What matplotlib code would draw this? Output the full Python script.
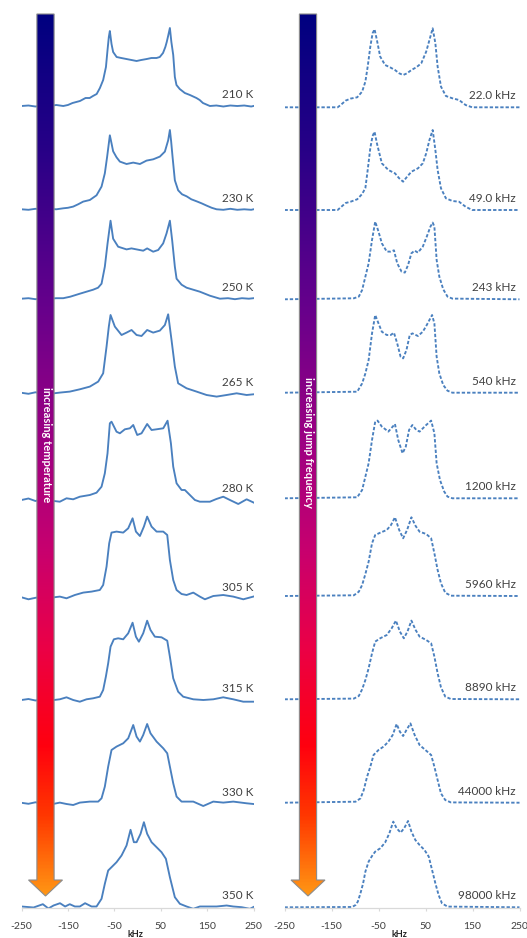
import numpy as np
import matplotlib
matplotlib.use("Agg")
import matplotlib.pyplot as plt
from matplotlib.colors import LinearSegmentedColormap
from matplotlib.patches import Polygon

plt.rcParams['font.family'] = ['Lato', 'DejaVu Sans']
plt.rcParams['lines.scale_dashes'] = False

# ---------------- data (kHz, intensity) ----------------
temp_labels = ['210 K', '230 K', '250 K', '265 K', '280 K', '305 K', '315 K', '330 K', '350 K']
freq_labels = ['22.0 kHz', '49.0 kHz', '243 kHz', '540 kHz', '1200 kHz', '5960 kHz', '8890 kHz', '44000 kHz', '98000 kHz']
tick_values = [-250, -150, -50, 50, 150, 250]

exp_210K_khz = [-250,-235,-220,-205,-190,-175,-160,-150,-140,-124,-112,-103,-96,-88,-81,-74,-68,-64.6,-61.8,-59.6,-56,-52.5,-45,-35,-24,-13,-2,8,20,30,41,48,55,60,63,66,69.8,73,77,80.5,84,91,102,113,127,134,141,156,170,185,200,215,230,245,250]
exp_210K_int = [0,0.5,-0.5,0.5,0,1,0,1,3,5,8,8,10,12,18,26,39,56,69,75,62,54,49,48,47,46,45,46,47,48,48,49,53,59,64,70,78,64,51,29,21,17,13,11,8,6,3,0,0.5,-0.5,0.5,0,0.5,-0.5,0]

exp_230K_khz = [-250,-235,-220,-205,-190,-175,-160,-150,-138.6,-128,-117,-102.7,-88.3,-77.5,-70.4,-65.4,-59.6,-56,-52.5,-45.2,-38,-23.6,-9.2,5.2,19.5,33.9,48.2,59,66.1,69.8,72.5,75.5,80.5,87.6,96,105.8,116,127.3,138,148.9,160,170.5,185,200,215,230,245,250]
exp_230K_int = [0,-0.5,0.5,0,0.5,0,1,1.5,2.7,5,7.7,9.3,14,22.7,36,52.7,74,66,58,52,47.7,45.3,46.7,45.3,48.7,50,52.7,57.7,69,79.3,68,52.7,29,19,15,13,10,8,6,3.7,1.5,0,-0.5,0.5,-0.5,0,-0.5,0]

exp_250K_khz = [-250,-235,-220,-205,-190,-175,-160,-145,-124.3,-110,-95.6,-85,-77.5,-70.4,-64.6,-58.1,-52.5,-41.7,-23.6,-13,-2,12.3,20.8,33.8,44.6,55.3,62.6,69.8,74.8,80.5,84.2,95,105.8,120,134.4,156,177.6,195,210,225,240,250]
exp_250K_int = [0,0.5,-0.5,0.5,0,0.5,0.5,2,5,7,9,11,15,32,55,78,60,52,49.3,50.3,49.3,48,50.3,47,48.7,55.3,65.3,78,58,32,20,14,11,9,7,3,0,0.5,-0.5,0.5,0,0.5]

exp_265K_khz = [-250,-235,-220,-205,-190,-180,-167.4,-145.8,-124.3,-102.7,-84.7,-74,-66.7,-61.8,-58.1,-48.8,-34.4,-23.6,-12.8,-2,8.7,20.8,33.8,48.2,59,66.1,73.4,80.5,87.6,105.8,127.3,148.9,170.5,192.1,213.6,235.2,250]
exp_265K_int = [0.5,-0.5,1,0,-1,0,0.7,1.7,4,6.7,11.7,20,46.7,66.7,78.3,66.7,58.3,60.7,63.3,58.3,57.3,63.3,60.7,62.7,68.3,79,53,26.7,10,5,1.7,-1.7,-3.3,-1.7,0,-1.7,-1]

exp_280K_khz = [-250,-235,-220,-205,-190,-180,-167.4,-153,-138.6,-124.3,-102.7,-88.3,-77.5,-70.4,-64.6,-59.6,-56,-45.2,-38,-27.2,-16.4,-9.2,-0.6,8.7,20.8,30.3,41.1,55.5,64.8,72,77,84.2,95,102.1,112.9,123.7,134.4,156,170,184.8,199.2,217.2,235.2,250]
exp_280K_int = [0,1.5,-1,1,0,-1,-1.7,1.7,0.7,3.3,5,7.3,13.3,26.7,46.7,76.7,78.3,68.3,66.7,70.7,71.7,75,65,66.7,76,70,70.7,71.7,79.3,56.7,33.3,16.7,10,10,5,0,-1.7,-1.7,1,3.3,0,-4,0.7,-2.5]

exp_305K_khz = [-250,-235,-220,-205,-190,-180,-167.4,-153,-135,-117,-99,-81.2,-74,-66.7,-61,-56,-45.2,-30.8,-20,-10.6,-3.4,5.2,13.8,20.8,30.3,41.1,55.5,64.1,69.8,77,84.2,95,105.8,120.2,134.4,145.3,163.3,184.8,206.4,228,249.6]
exp_305K_int = [1,-1,0.5,1.5,0,1,1.7,0,3.3,5.7,6.7,8.3,13.3,31.7,55,65.7,66.7,65.7,70,80,66.7,62.3,71.7,81.7,71.7,66.7,66.7,63.3,38.3,18.3,8.3,4.3,3.3,5.7,1.7,-1,2.3,3.3,1.7,-1,1.7]

exp_315K_khz = [-250,-235,-220,-205,-190,-180,-167.4,-153,-138.6,-124.3,-109.9,-95.6,-81.2,-74,-68.2,-63.2,-58.1,-51,-41.7,-30.8,-20,-10.6,-3.4,3,12.3,20.8,28,37.4,51.8,64.1,69.8,77,87.6,98.5,120.2,141.7,163.3,184.8,206.4,228,250]
exp_315K_int = [0,1,-0.5,0.5,-1,0,0.7,2.7,0,-1.7,0.7,1.7,3.3,10,23.3,36.7,53.3,60.7,61.7,60.7,66.7,77.3,63.3,58.3,66.7,79.3,70,63.3,62.7,59.3,43.3,21.7,8.3,3.3,0.7,0,0.7,2.7,0.7,-1.7,-1.7]

exp_330K_khz = [-250,-235,-220,-205,-190,-180,-167.4,-153,-138.6,-124.3,-102.7,-84.7,-77.5,-70.4,-63.2,-56,-45.2,-30.8,-20,-9.2,-2,5.2,12.3,20.8,28,41.1,55.5,64.1,69.8,77,84.2,95,120.2,141.7,163.3,184.8,206.4,235.2,250]
exp_330K_int = [0.5,-0.5,1,0,0.5,-0.5,0.7,-0.7,-1.7,0.7,1.7,1.7,5,16.7,36.7,53.3,56.7,60,65,78.3,66.7,61.7,68.3,79.3,70,61.7,55,50,36.7,20,6.7,1.7,1.7,-2.7,1.7,0.7,1.7,0,-0.7]

exp_350K_khz = [-250,-224,-204,-192,-181,-167,-156,-146,-135,-124.3,-113,-99,-88.3,-77.5,-70.4,-63.2,-56,-45.2,-34.4,-23.6,-15,-7.8,-2,6.6,13.8,20.8,30.3,41.1,51.8,61.2,69.8,80.5,91.3,105.8,120.2,134.4,148.9,170.5,192.1,206.4,224.4,242.4,250]
exp_350K_int = [0,-1,2.3,-2,1,3.3,0,2.3,0,0,3.3,0,0,7.7,22.7,36,39.3,44.3,51,61,76.7,64.3,64.3,72.7,84.3,72.7,64.3,59.3,54.3,47.7,29.3,9.3,2.7,0,-2.3,0,0,0,1,0,-0.7,-2.3,-0.5]

sim_22_khz = [-250,-137,-130.4,-119.9,-109.4,-95.3,-84.8,-77.9,-73,-67.4,-62.6,-58.4,-53.4,-46.4,-36,-25.5,-15,-6,2.4,10.8,20,30.5,41,51.5,58.4,65.3,71,75.8,82.9,93.4,107.2,121.3,135.3,149.2,250]
sim_22_int = [0,0,2.3,6.7,8.7,10,15.7,25.7,40.7,60.7,74,78,67.3,50.7,42.3,40,37.3,34,32.3,34,37.3,40,44,55.7,67.3,79,64,40.7,20.7,11.3,9,7.3,2.3,0,0]

sim_49_khz = [-250,-137,-130.4,-119.9,-109.4,-95.3,-84.8,-77.9,-73,-67.4,-62.6,-58.4,-53.4,-42.9,-29,-15,-6,2.4,10.8,20,34,44.3,51.5,58.4,65.3,71,75.8,82.9,93.4,107.2,121.3,135.3,149.2,250]
sim_49_int = [0,0,2.7,7,8.3,10.7,16,22,40,62,74,78.3,66.7,46.7,40,36.7,31.7,28.3,33.3,38.3,41.7,46.7,56.7,70,80,60,40,21.7,11.7,9,8.3,3.3,0,0]

sim_243_khz = [-250,-102.4,-91.9,-84.8,-77.9,-71,-63.8,-57,-50,-42.9,-32.4,-24,-17.1,-10.2,-1,6,12.9,20,26.9,33.9,44.3,52.7,60.5,65.3,68.9,73.7,79.4,87.7,96.8,107.2,250]
sim_243_int = [0,1,2.7,9.3,22.7,36,59.3,77.7,67.7,56,47.7,47.7,49,36,27.7,26.7,34.3,46,48.7,46.7,52.7,62.7,72.7,76.7,72.7,39.3,22.7,10,2.7,0.7,0]

sim_540_khz = [-250,-95.3,-84.8,-77.9,-71,-63.8,-57,-50,-42.9,-32.4,-24,-17.1,-10.2,-3,2.4,9.5,16.5,22.1,33.9,44.3,52.7,64,68.9,73.7,79.4,87.7,96.8,107.2,250]
sim_540_int = [0,1,9.3,19.3,32.7,59.3,77.7,69.3,61,57.7,57.7,60,49.3,36,34.3,42.7,57.7,59.3,56.7,61,67.7,77.7,69.3,36,19.3,7.7,2,0,0]

sim_1200_khz = [-250,-95.3,-84.8,-77.9,-71,-63.8,-57,-52.1,-42.9,-29,-15,-8,1.2,8.1,15,22.1,30.5,37.4,51.5,62,68.9,73.7,80.8,89.8,96.8,107.2,250]
sim_1200_int = [0,1,8.3,21.7,35,58.3,76.7,77.7,71.7,66.7,74.3,58.3,45,51.7,68.3,73.3,68.3,66.7,73.3,77.7,65,35,18.3,6.7,1.7,0,0]

sim_5960_khz = [-250,-102.4,-91.9,-84.8,-77.9,-71,-63.8,-57,-46.4,-32.4,-23.4,-15,-6,2.4,10.8,20,29,37.4,51.5,62,68.9,75.8,82.9,92,103.9,250]
sim_5960_int = [0,0.7,4.3,11,22,34.3,52.7,61,63.3,66,71,78.7,66,57.7,66,78.7,70,64.3,62,57.7,42.7,26,12.7,3.3,0.3,0]

sim_8890_khz = [-250,-102.4,-91.9,-84.8,-77.9,-71,-63.8,-57,-46.4,-32.4,-22,-12.9,-4.5,3.9,11.6,20,29,37.4,51.5,62,68.9,75.8,82.9,92,103.9,250]
sim_8890_int = [0,0.7,3.3,10,19.3,31,46,57.7,61,64.3,71,78.7,67.7,61,67.7,78.7,69.3,62.7,59.3,56,42.7,26,12,2.7,0.3,0]

sim_44000_khz = [-250,-98.8,-88.4,-81.4,-74.3,-67.4,-60.5,-50,-39.5,-29,-19.8,-11.4,-4.5,2.4,9.5,17.9,26.9,37.4,51.5,62,68.9,75.8,82.9,92,103.9,250]
sim_44000_int = [0,1,4.3,12.7,26,36,47.7,52.7,56,61,67.7,78.7,71,66.7,72.7,79.3,67.7,57.7,52,47.7,36,22.7,9.3,2.7,0.3,0]

sim_98000_khz = [-250,-106,-98.8,-94,-88.4,-82.7,-77.9,-71,-63.8,-57,-46.4,-36,-26.9,-18.6,-11.4,-3,4.5,12.9,20,28.4,37.4,47.9,56.9,64,71,77.9,85,96.8,250]
sim_98000_int = [0,0.3,2.3,5.7,14,24,35.7,45.7,51.3,55.7,59,64.7,74,85.7,79,74.7,79,86.3,75.7,67.3,62.3,57.3,50.7,37.3,24,12.3,4,0.7,0]

exp_series = [(exp_210K_khz, exp_210K_int), (exp_230K_khz, exp_230K_int), (exp_250K_khz, exp_250K_int),
              (exp_265K_khz, exp_265K_int), (exp_280K_khz, exp_280K_int), (exp_305K_khz, exp_305K_int),
              (exp_315K_khz, exp_315K_int), (exp_330K_khz, exp_330K_int), (exp_350K_khz, exp_350K_int)]
sim_series = [(sim_22_khz, sim_22_int), (sim_49_khz, sim_49_int), (sim_243_khz, sim_243_int),
              (sim_540_khz, sim_540_int), (sim_1200_khz, sim_1200_int), (sim_5960_khz, sim_5960_int),
              (sim_8890_khz, sim_8890_int), (sim_44000_khz, sim_44000_int), (sim_98000_khz, sim_98000_int)]

# ---------------- layout (pixels) ----------------
W, H = 527, 938
AX_BOTTOM = 908
base_left = [106, 209.3, 298.7, 393.3, 500, 598.3, 700, 803.3, 906.5]
base_right = [107.3, 210, 299.3, 392.7, 498.3, 596, 699.3, 802.7, 907.3]
LINE_COLOR = '#4a80bf'
TEXT_COLOR = '#404040'
AXIS_COLOR = '#d9d9d9'

fig = plt.figure(figsize=(W / 100, H / 100), dpi=100)


def px_axes(x0, x1):
    return fig.add_axes([x0 / W, (H - AX_BOTTOM) / H, (x1 - x0) / W, AX_BOTTOM / H])


axL = px_axes(21.5, 253.5)
axR = px_axes(284.5, 519.5)

for ax in (axL, axR):
    ax.set_xlim(-250, 250)
    ax.set_ylim(0, AX_BOTTOM)
    for s in ('left', 'right', 'top'):
        ax.spines[s].set_visible(False)
    ax.spines['bottom'].set_color(AXIS_COLOR)
    ax.spines['bottom'].set_linewidth(0.9)
    ax.set_xticks(tick_values)
    ax.set_xticklabels([str(v) for v in tick_values])
    ax.tick_params(axis='x', length=2.5, width=0.8, color=AXIS_COLOR, labelsize=7.5,
                   labelcolor=TEXT_COLOR, pad=7.5)
    ax.set_yticks([])
    ax.patch.set_alpha(0)
    ax.text(-5, -26, 'kHz', ha='center', va='center', fontsize=6.5, fontweight='bold', color='#222222')

for (kx, ky), b, lab in zip(exp_series, base_left, temp_labels):
    off = AX_BOTTOM - b
    axL.plot(kx, np.asarray(ky) + off, color=LINE_COLOR, lw=1.35, solid_joinstyle='round')
    axL.text(249, off + 11, lab, ha='right', va='center', fontsize=8.5, color=TEXT_COLOR)

for (kx, ky), b, lab in zip(sim_series, base_right, freq_labels):
    off = AX_BOTTOM - b
    axR.plot(kx, np.asarray(ky) + off, color=LINE_COLOR, lw=1.35, linestyle=(0, (2.4, 1.4)))
    axR.text(241.5, off + 11.5, lab, ha='right', va='center', fontsize=8.5, color=TEXT_COLOR)

# ---------------- gradient arrows ----------------
ov = fig.add_axes([0, 0, 1, 1])
ov.set_zorder(10)
ov.patch.set_alpha(0)
ov.axis('off')

cmap = LinearSegmentedColormap.from_list('arr', [
    (0.0, (0 / 255, 0 / 255, 128 / 255)),
    (0.154, (40 / 255, 0, 135 / 255)),
    (0.324, (100 / 255, 0, 140 / 255)),
    (0.494, (160 / 255, 0, 130 / 255)),
    (0.61, (200 / 255, 0, 110 / 255)),
    (0.72, (235 / 255, 0, 70 / 255)),
    (0.83, (255 / 255, 0, 15 / 255)),
    (0.91, (255 / 255, 55 / 255, 0)),
    (1.0, (255 / 255, 150 / 255, 20 / 255)),
])
grad = np.linspace(0, 1, 512).reshape(-1, 1)


def draw_arrow(xc, text, ty):
    hw_bar, hw_head = 8.6, 17.0
    top, neck, tip = 14, 880, 896
    verts = [(xc - hw_bar, top), (xc + hw_bar, top), (xc + hw_bar, neck), (xc + hw_head, neck),
             (xc, tip), (xc - hw_head, neck), (xc - hw_bar, neck)]
    poly = Polygon(verts, closed=True, facecolor='none', edgecolor='#8c8c8c', lw=0.8, zorder=3)
    ov.add_patch(poly)
    im = ov.imshow(grad, cmap=cmap, extent=(xc - hw_head, xc + hw_head, tip, top), aspect='auto',
                   zorder=2, interpolation='bilinear')
    im.set_clip_path(poly)
    ov.text(xc + 0.5, ty, text, rotation=-90, ha='center', va='center', color='white',
            fontsize=8, fontweight='bold', zorder=4)


draw_arrow(45.5, 'increasing temperature', 445)
draw_arrow(308.0, 'increasing jump frequency', 442)
ov.set_xlim(0, W)
ov.set_ylim(H, 0)

fig.savefig('out.png', dpi=100)
